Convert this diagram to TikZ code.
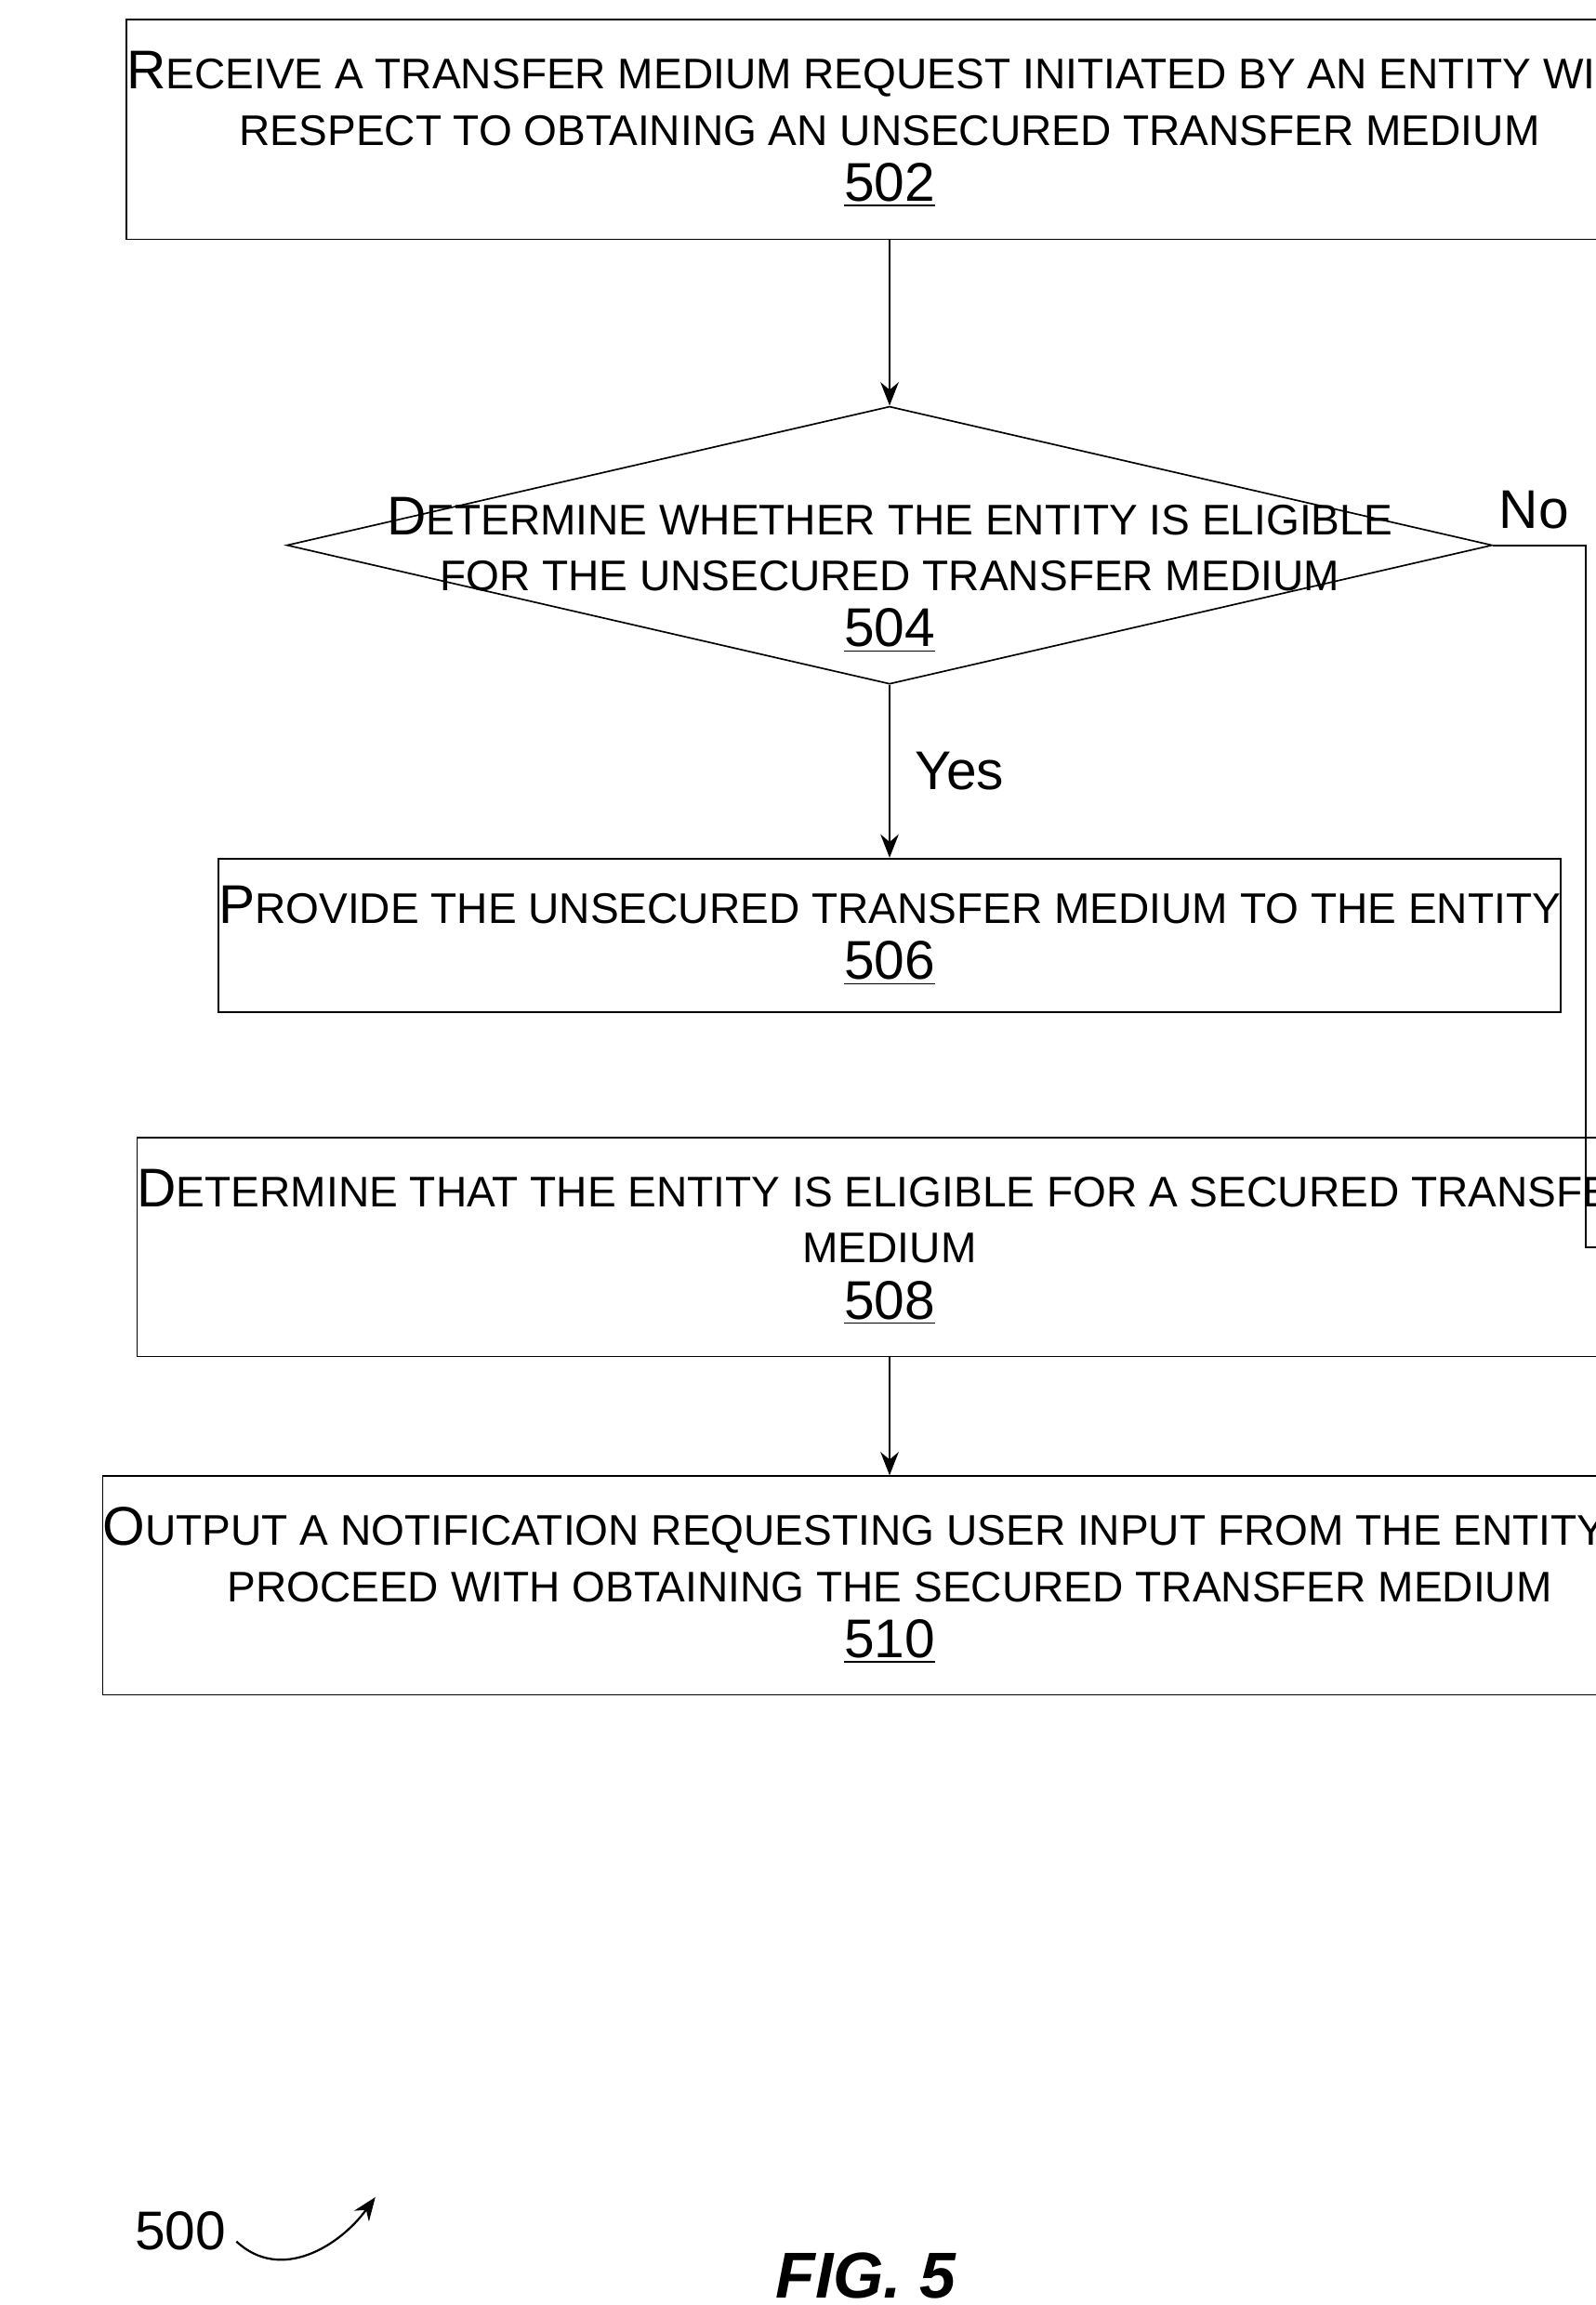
\documentclass[tikz,border=0pt]{standalone}
\usepackage{fontspec}
\setmainfont{Liberation Sans}
\usetikzlibrary{shapes.geometric,arrows.meta}
\newcommand{\capl}[1]{{\fontsize{21}{22}\selectfont #1}}
\newcommand{\stepno}[1]{{\fontsize{21}{22}\selectfont\underline{#1}}}
\tikzset{
  stepbox/.style={draw, line width=0.6pt, minimum width=16.32cm, align=center, inner sep=0pt, font=\fontsize{16.5}{21.6}\selectfont},
  flow/.style={draw, line width=0.8pt, -{Stealth[length=9pt,width=7pt]}}
}
\begin{document}
\begin{tikzpicture}[x=0.02cm, y=-0.02cm]
        \useasboundingbox (0, 0) rectangle (1080, 1560);
        \node [stepbox, minimum height=2.98cm] (s502) at (602, 87.5) {\capl{R}ECEIVE A TRANSFER MEDIUM REQUEST INITIATED BY AN ENTITY WITH\\RESPECT TO OBTAINING AN UNSECURED TRANSFER MEDIUM\\\stepno{502}};
        \node [draw, diamond, line width=0.6pt, minimum width=16.32cm, minimum height=3.76cm, inner sep=0pt] (s504) at (602, 369) {};
        \node [align=center, font=\fontsize{16.5}{21.6}\selectfont] at (602, 389) {\capl{D}ETERMINE WHETHER THE ENTITY IS ELIGIBLE\\FOR THE UNSECURED TRANSFER MEDIUM\\\stepno{504}};
        \node [stepbox, minimum height=2.08cm] (s506) at (602, 633) {\capl{P}ROVIDE THE UNSECURED TRANSFER MEDIUM TO THE ENTITY\\\stepno{506}};
        \node [stepbox, minimum height=2.96cm] (s508) at (602, 844) {\capl{D}ETERMINE THAT THE ENTITY IS ELIGIBLE FOR A SECURED TRANSFER\\MEDIUM\\\stepno{508}};
        \node [stepbox, minimum height=2.96cm] (s510) at (602, 1073) {\capl{O}UTPUT A NOTIFICATION REQUESTING USER INPUT FROM THE ENTITY TO\\PROCEED WITH OBTAINING THE SECURED TRANSFER MEDIUM\\\stepno{510}};
        \coordinate (turn) at (1073, 369);
        \draw [flow] (s502) -- (s504);
        \draw [flow] (s504) -- (s506) node [midway, right=6pt, font=\fontsize{21}{22}\selectfont] {Yes};
        \draw [flow] (s504.east) -- (turn) |- (s508.east);
        \draw [flow] (s508) -- (s510);
        \node [font=\fontsize{21}{22}\selectfont] (no) at (1038, 345) {No};
        \node [font=\fontsize{21}{22}\selectfont] (fig) at (122, 1510) {500};
        \coordinate (tip) at (254, 1487);
        \draw [flow] (160, 1517) .. controls (190, 1545) and (230, 1520) .. (tip);
        \node [font=\fontsize{25}{26}\selectfont\bfseries\itshape] (caption) at (586, 1540) {FIG. 5};
\end{tikzpicture}
\end{document}
